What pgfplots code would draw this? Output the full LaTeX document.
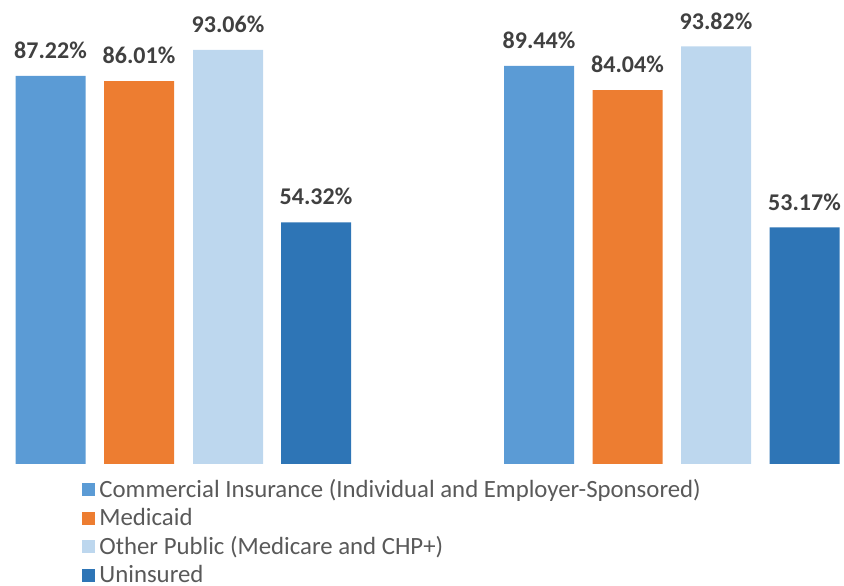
\documentclass[border=0pt]{standalone}
\usepackage{pgfplots}
\pgfplotsset{compat=1.18}
\usepackage{fontspec}
\setmainfont{Carlito}
\definecolor{cComm}{HTML}{5B9BD5}
\definecolor{cMed}{HTML}{ED7D31}
\definecolor{cOth}{HTML}{BDD7EE}
\definecolor{cUni}{HTML}{2E75B6}
\definecolor{txt}{HTML}{404040}
\definecolor{ltxt}{HTML}{595959}
\begin{document}
\begin{tikzpicture}
\begin{axis}[
  scale only axis,
  width=422pt, height=293pt,
  xmin=0, xmax=844,
  ymin=-27.42, ymax=104.27,
  hide axis,
  clip=false,
  ybar, bar shift=0pt, bar width=35pt,
  /pgf/number format/assume math mode=true,
  nodes near coords={\pgfmathprintnumber[fixed,fixed zerofill,precision=2]{\pgfplotspointmeta}\%},
  every node near coord/.append style={font=\fontsize{12}{13}\selectfont\bfseries, text=txt, yshift=5pt},
  legend style={draw=none, fill=none, at={(82/844,0.19)}, anchor=north west,
    font=\fontsize{12.4}{14}\selectfont, text=ltxt, cells={anchor=west},
    row sep=0pt, inner sep=0pt},
  legend image code/.code={\fill[#1] (0pt,-3.2pt) rectangle (6.5pt,3.3pt);},
]
\addplot[fill=cComm, draw=none] coordinates {(50.5,87.22) (539,89.44)};
\addlegendentry{Commercial Insurance (Individual and Employer-Sponsored)}
\addplot[fill=cMed, draw=none] coordinates {(139,86.01) (627.5,84.04)};
\addlegendentry{Medicaid}
\addplot[fill=cOth, draw=none] coordinates {(228,93.06) (716,93.82)};
\addlegendentry{Other Public (Medicare and CHP+)}
\addplot[fill=cUni, draw=none] coordinates {(316,54.32) (804.5,53.17)};
\addlegendentry{Uninsured}
\end{axis}
\pgfresetboundingbox
\path (current axis.south west) rectangle (current axis.north east);
\end{tikzpicture}
\end{document}
